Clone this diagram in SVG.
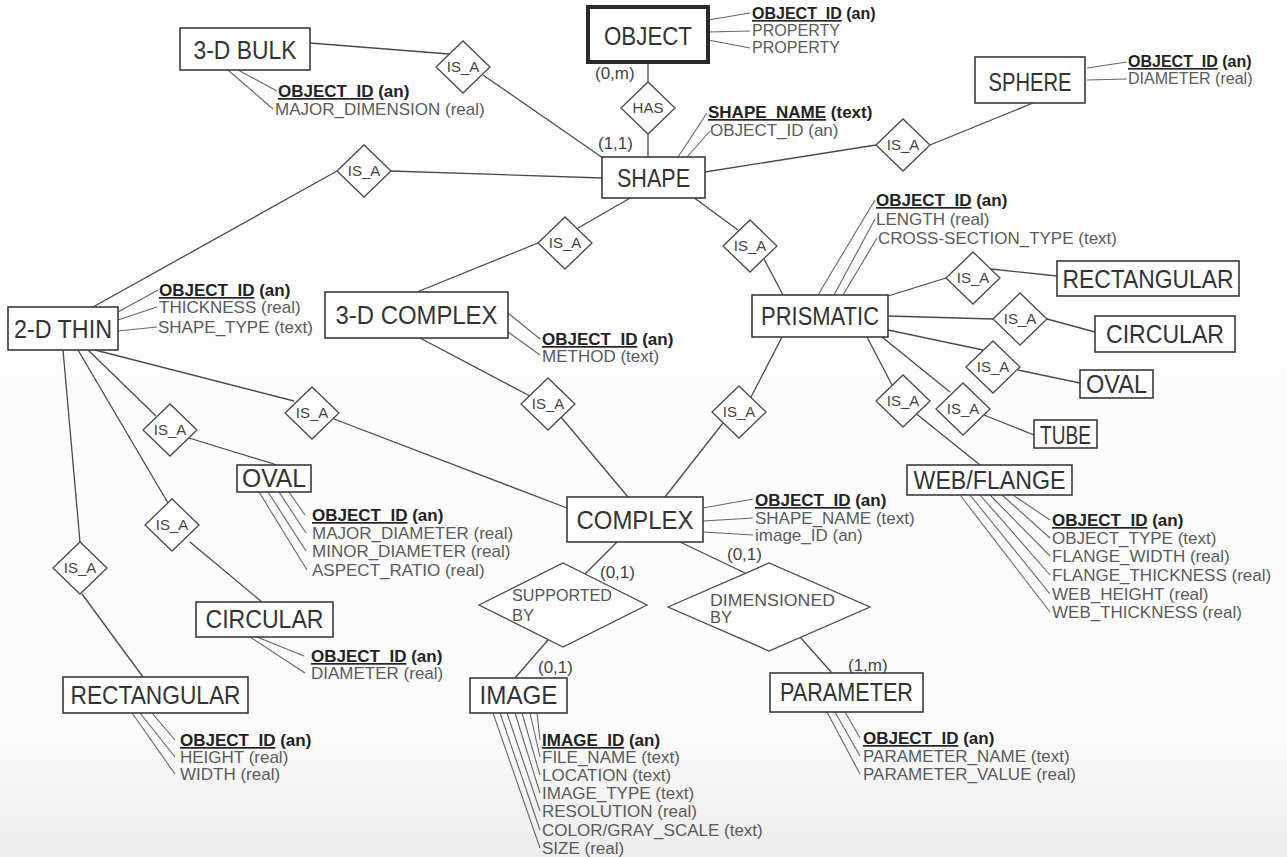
<svg xmlns="http://www.w3.org/2000/svg" width="1287" height="857" viewBox="0 0 1287 857">
<defs>
<linearGradient id="bg" x1="0" y1="0" x2="0" y2="1">
<stop offset="0" stop-color="#ffffff"/>
<stop offset="0.85" stop-color="#fbfbfb"/>
<stop offset="1" stop-color="#ececec"/>
</linearGradient>
<style>
.bx{fill:#fff;stroke:#3a3a3a;stroke-width:1.6}
.bxk{fill:#fff;stroke:#2a2a2a;stroke-width:4}
.dm{fill:#fff;stroke:#4a4a4a;stroke-width:1.3}
.ln{stroke:#4a4a4a;stroke-width:1.3;fill:none}
.al{stroke:#666;stroke-width:1.1;fill:none}
text{font-family:"Liberation Sans",Arial,sans-serif}
.lbl{font-size:25px;fill:#333;text-anchor:middle}
.at{font-size:17px;fill:#5a5a5a}
.sm{font-size:16px}
.key{font-weight:bold;fill:#222}
.u{text-decoration:underline}
.rt{font-size:15px;fill:#444;text-anchor:middle}
.rl{font-size:16.5px;fill:#555}
.card{font-size:17px;fill:#444}
</style>
</defs>
<rect x="0" y="0" width="1287" height="857" fill="url(#bg)"/>

<g id="connectors">
<line class="ln" x1="648" y1="62" x2="648" y2="82"/>
<line class="ln" x1="648" y1="134" x2="648" y2="157"/>
<line class="ln" x1="310" y1="43" x2="449" y2="54"/>
<line class="ln" x1="483" y1="75" x2="603" y2="158"/>
<line class="ln" x1="391" y1="171" x2="602" y2="178"/>
<line class="ln" x1="337" y1="171" x2="93" y2="307"/>
<line class="ln" x1="705" y1="172" x2="876" y2="145"/>
<line class="ln" x1="930" y1="145" x2="1033" y2="103"/>
<line class="ln" x1="632" y1="197" x2="578" y2="228"/>
<line class="ln" x1="538" y1="243" x2="417" y2="292"/>
<line class="ln" x1="693" y1="197" x2="738" y2="230"/>
<line class="ln" x1="764" y1="259" x2="783" y2="295"/>
<line class="ln" x1="420" y1="338" x2="530" y2="396"/>
<line class="ln" x1="561" y1="417" x2="628" y2="497"/>
<line class="ln" x1="782" y1="337" x2="751" y2="397"/>
<line class="ln" x1="723" y1="423" x2="665" y2="497"/>
<line class="ln" x1="95" y1="350" x2="294" y2="401"/>
<line class="ln" x1="334" y1="419" x2="567" y2="508"/>
<line class="ln" x1="88" y1="350" x2="156" y2="416"/>
<line class="ln" x1="189" y1="438" x2="277" y2="465"/>
<line class="ln" x1="78" y1="350" x2="168" y2="503"/>
<line class="ln" x1="190" y1="542" x2="262" y2="602"/>
<line class="ln" x1="63" y1="350" x2="80" y2="542"/>
<line class="ln" x1="82" y1="594" x2="143" y2="677"/>
<line class="ln" x1="888" y1="296" x2="946" y2="278"/>
<line class="ln" x1="991" y1="269" x2="1057" y2="276"/>
<line class="ln" x1="888" y1="316" x2="993" y2="319"/>
<line class="ln" x1="1047" y1="319" x2="1095" y2="332"/>
<line class="ln" x1="888" y1="330" x2="983" y2="350"/>
<line class="ln" x1="1018" y1="370" x2="1080" y2="383"/>
<line class="ln" x1="882" y1="337" x2="950" y2="392"/>
<line class="ln" x1="984" y1="415" x2="1034" y2="435"/>
<line class="ln" x1="867" y1="337" x2="892" y2="385"/>
<line class="ln" x1="914" y1="412" x2="980" y2="465"/>
<line class="ln" x1="617" y1="542" x2="585" y2="574"/>
<line class="ln" x1="680" y1="542" x2="745" y2="573"/>
<line class="ln" x1="548" y1="640" x2="515" y2="678"/>
<line class="ln" x1="800" y1="637" x2="832" y2="673"/>
<text class="card" x="595" y="79">(0,m)</text>
<text class="card" x="598" y="149">(1,1)</text>
<text class="card" x="600" y="578">(0,1)</text>
<text class="card" x="727" y="560">(0,1)</text>
<text class="card" x="538" y="673">(0,1)</text>
<text class="card" x="848" y="671">(1,m)</text>
</g>

<g id="rel-has"><polygon class="dm" points="621,108 648,82 675,108 648,134"/><text class="rt" x="648" y="113">HAS</text></g>
<g id="isa-bulk"><polygon class="dm" points="436,67 463,41 490,67 463,93"/><text class="rt" x="463" y="72">IS_A</text></g>
<g id="isa-sphere"><polygon class="dm" points="876,145 903,119 930,145 903,171"/><text class="rt" x="903" y="150">IS_A</text></g>
<g id="isa-thin"><polygon class="dm" points="337,171 364,145 391,171 364,197"/><text class="rt" x="364" y="176">IS_A</text></g>
<g id="isa-3dcomplex"><polygon class="dm" points="538,243 565,217 592,243 565,269"/><text class="rt" x="565" y="248">IS_A</text></g>
<g id="isa-prismatic"><polygon class="dm" points="723,246 750,220 777,246 750,272"/><text class="rt" x="750" y="251">IS_A</text></g>
<g id="isa-3dc-complex"><polygon class="dm" points="521,404 548,378 575,404 548,430"/><text class="rt" x="548" y="409">IS_A</text></g>
<g id="isa-pri-complex"><polygon class="dm" points="712,412 739,386 766,412 739,438"/><text class="rt" x="739" y="417">IS_A</text></g>
<g id="isa-pri-rect"><polygon class="dm" points="946,278 973,252 1000,278 973,304"/><text class="rt" x="973" y="283">IS_A</text></g>
<g id="isa-pri-circ"><polygon class="dm" points="993,319 1020,293 1047,319 1020,345"/><text class="rt" x="1020" y="324">IS_A</text></g>
<g id="isa-pri-oval"><polygon class="dm" points="966,367 993,341 1020,367 993,393"/><text class="rt" x="993" y="372">IS_A</text></g>
<g id="isa-pri-tube"><polygon class="dm" points="936,409 963,383 990,409 963,435"/><text class="rt" x="963" y="414">IS_A</text></g>
<g id="isa-pri-web"><polygon class="dm" points="876,401 903,375 930,401 903,427"/><text class="rt" x="903" y="406">IS_A</text></g>
<g id="isa-thin-oval"><polygon class="dm" points="143,430 170,404 197,430 170,456"/><text class="rt" x="170" y="435">IS_A</text></g>
<g id="isa-thin-complex"><polygon class="dm" points="285,413 312,387 339,413 312,439"/><text class="rt" x="312" y="418">IS_A</text></g>
<g id="isa-thin-circ"><polygon class="dm" points="145,525 172,499 199,525 172,551"/><text class="rt" x="172" y="530">IS_A</text></g>
<g id="isa-thin-rect"><polygon class="dm" points="53,568 80,542 107,568 80,594"/><text class="rt" x="80" y="573">IS_A</text></g>
<g id="rel-supported"><polygon class="dm" points="479,605 563,563 647,605 563,647"/><text class="rl" x="512" y="601" textLength="100" lengthAdjust="spacingAndGlyphs">SUPPORTED</text><text class="rl" x="512" y="621">BY</text></g>
<g id="rel-dimensioned"><polygon class="dm" points="668,607 769,563 870,607 769,651"/><text class="rl" x="710" y="606" textLength="125" lengthAdjust="spacingAndGlyphs">DIMENSIONED</text><text class="rl" x="710" y="623">BY</text></g>

<g id="object">
<line class="al" x1="708" y1="20" x2="750" y2="13"/><line class="al" x1="708" y1="32" x2="750" y2="31"/><line class="al" x1="708" y1="40" x2="750" y2="48"/>
<rect class="bxk" x="588" y="7" width="120" height="55"/>
<text class="lbl" x="648" y="45" textLength="88" lengthAdjust="spacingAndGlyphs">OBJECT</text>
<text class="at sm key" x="752" y="19"><tspan class="u">OBJECT_ID</tspan> (an)</text>
<text class="at sm" x="752" y="36" textLength="88" lengthAdjust="spacingAndGlyphs">PROPERTY</text>
<text class="at sm" x="752" y="53" textLength="88" lengthAdjust="spacingAndGlyphs">PROPERTY</text>
</g>

<g id="bulk3d">
<line class="al" x1="238" y1="70" x2="277" y2="91"/><line class="al" x1="228" y1="70" x2="273" y2="109"/>
<rect class="bx" x="180" y="28" width="130" height="42"/>
<text class="lbl" x="245" y="59" textLength="103" lengthAdjust="spacingAndGlyphs">3-D BULK</text>
<text class="at key" x="278" y="97"><tspan class="u">OBJECT_ID</tspan> (an)</text>
<text class="at" x="275" y="115">MAJOR_DIMENSION (real)</text>
</g>

<g id="shape">
<line class="al" x1="678" y1="157" x2="707" y2="113"/><line class="al" x1="687" y1="157" x2="710" y2="131"/>
<rect class="bx" x="602" y="157" width="103" height="41"/>
<text class="lbl" x="653.5" y="187" textLength="73" lengthAdjust="spacingAndGlyphs">SHAPE</text>
<text class="at key" x="708" y="118"><tspan class="u">SHAPE_NAME</tspan> (text)</text>
<text class="at" x="710" y="136">OBJECT_ID (an)</text>
</g>

<g id="sphere">
<line class="al" x1="1087" y1="68" x2="1127" y2="62"/><line class="al" x1="1087" y1="80" x2="1127" y2="79"/>
<rect class="bx" x="975" y="57" width="110" height="46"/>
<text class="lbl" x="1030" y="91" textLength="83" lengthAdjust="spacingAndGlyphs">SPHERE</text>
<text class="at sm key" x="1128" y="67"><tspan class="u">OBJECT_ID</tspan> (an)</text>
<text class="at sm" x="1128" y="84">DIAMETER (real)</text>
</g>

<g id="thin2d">
<line class="al" x1="118" y1="312" x2="158" y2="290"/><line class="al" x1="118" y1="320" x2="157" y2="307"/><line class="al" x1="118" y1="331" x2="157" y2="327"/>
<rect class="bx" x="8" y="307" width="110" height="43"/>
<text class="lbl" x="63" y="338" textLength="98" lengthAdjust="spacingAndGlyphs">2-D THIN</text>
<text class="at key" x="159" y="296"><tspan class="u">OBJECT_ID</tspan> (an)</text>
<text class="at" x="159" y="313">THICKNESS (real)</text>
<text class="at" x="158" y="333">SHAPE_TYPE (text)</text>
</g>

<g id="complex3d">
<line class="al" x1="508" y1="313" x2="540" y2="339"/><line class="al" x1="508" y1="332" x2="540" y2="355"/>
<rect class="bx" x="325" y="292" width="183" height="46"/>
<text class="lbl" x="416.5" y="324" textLength="162" lengthAdjust="spacingAndGlyphs">3-D COMPLEX</text>
<text class="at key" x="542" y="345"><tspan class="u">OBJECT_ID</tspan> (an)</text>
<text class="at" x="542" y="362">METHOD (text)</text>
</g>

<g id="prismatic">
<line class="al" x1="818" y1="295" x2="875" y2="200"/><line class="al" x1="834" y1="295" x2="875" y2="219"/><line class="al" x1="843" y1="295" x2="877" y2="238"/>
<rect class="bx" x="752" y="295" width="136" height="42"/>
<text class="lbl" x="820" y="325" textLength="118" lengthAdjust="spacingAndGlyphs">PRISMATIC</text>
<text class="at key" x="876" y="206"><tspan class="u">OBJECT_ID</tspan> (an)</text>
<text class="at" x="876" y="225">LENGTH (real)</text>
<text class="at" x="878" y="244">CROSS-SECTION_TYPE (text)</text>
</g>

<g id="rectangular-r">
<rect class="bx" x="1057" y="261" width="182" height="35"/>
<text class="lbl" x="1148" y="288" textLength="171" lengthAdjust="spacingAndGlyphs">RECTANGULAR</text>
</g>
<g id="circular-r">
<rect class="bx" x="1095" y="316" width="140" height="36"/>
<text class="lbl" x="1165" y="343" textLength="118" lengthAdjust="spacingAndGlyphs">CIRCULAR</text>
</g>
<g id="oval-r">
<rect class="bx" x="1080" y="370" width="73" height="28"/>
<text class="lbl" x="1116.5" y="393" textLength="61" lengthAdjust="spacingAndGlyphs">OVAL</text>
</g>
<g id="tube">
<rect class="bx" x="1034" y="420" width="63" height="28"/>
<text class="lbl" x="1065.5" y="444" textLength="51" lengthAdjust="spacingAndGlyphs">TUBE</text>
</g>

<g id="webflange">
<line class="al" x1="1013" y1="495" x2="1050" y2="520"/><line class="al" x1="1002" y1="495" x2="1050" y2="538"/><line class="al" x1="990" y1="495" x2="1050" y2="556"/><line class="al" x1="980" y1="495" x2="1050" y2="575"/><line class="al" x1="970" y1="495" x2="1050" y2="594"/><line class="al" x1="960" y1="495" x2="1050" y2="612"/>
<rect class="bx" x="907" y="465" width="165" height="30"/>
<text class="lbl" x="989.5" y="489" textLength="152" lengthAdjust="spacingAndGlyphs">WEB/FLANGE</text>
<text class="at key" x="1052" y="526"><tspan class="u">OBJECT_ID</tspan> (an)</text>
<text class="at" x="1052" y="544">OBJECT_TYPE (text)</text>
<text class="at" x="1052" y="562">FLANGE_WIDTH (real)</text>
<text class="at" x="1052" y="581">FLANGE_THICKNESS (real)</text>
<text class="at" x="1052" y="600">WEB_HEIGHT (real)</text>
<text class="at" x="1052" y="618">WEB_THICKNESS (real)</text>
</g>

<g id="complex">
<line class="al" x1="703" y1="508" x2="753" y2="499"/><line class="al" x1="703" y1="521" x2="753" y2="518"/><line class="al" x1="703" y1="532" x2="753" y2="535"/>
<rect class="bx" x="567" y="497" width="136" height="45"/>
<text class="lbl" x="635" y="529" textLength="117" lengthAdjust="spacingAndGlyphs">COMPLEX</text>
<text class="at key" x="755" y="506"><tspan class="u">OBJECT_ID</tspan> (an)</text>
<text class="at" x="755" y="524">SHAPE_NAME (text)</text>
<text class="at" x="755" y="541">image_ID (an)</text>
</g>

<g id="oval-l">
<line class="al" x1="289" y1="492" x2="305" y2="515"/><line class="al" x1="279" y1="492" x2="306" y2="533"/><line class="al" x1="268" y1="492" x2="306" y2="551"/><line class="al" x1="259" y1="492" x2="307" y2="570"/>
<rect class="bx" x="237" y="465" width="74" height="27"/>
<text class="lbl" x="274" y="487" textLength="64" lengthAdjust="spacingAndGlyphs">OVAL</text>
<text class="at key" x="312" y="521"><tspan class="u">OBJECT_ID</tspan> (an)</text>
<text class="at" x="312" y="539">MAJOR_DIAMETER (real)</text>
<text class="at" x="312" y="557">MINOR_DIAMETER (real)</text>
<text class="at" x="312" y="576">ASPECT_RATIO (real)</text>
</g>

<g id="circular-l">
<line class="al" x1="257" y1="637" x2="304" y2="656"/><line class="al" x1="250" y1="637" x2="305" y2="673"/>
<rect class="bx" x="196" y="602" width="137" height="35"/>
<text class="lbl" x="264.5" y="628" textLength="118" lengthAdjust="spacingAndGlyphs">CIRCULAR</text>
<text class="at key" x="311" y="662"><tspan class="u">OBJECT_ID</tspan> (an)</text>
<text class="at" x="311" y="679">DIAMETER (real)</text>
</g>

<g id="rectangular-l">
<line class="al" x1="152" y1="713" x2="175" y2="740"/><line class="al" x1="140" y1="713" x2="175" y2="757"/><line class="al" x1="132" y1="713" x2="175" y2="774"/>
<rect class="bx" x="63" y="677" width="185" height="36"/>
<text class="lbl" x="155.5" y="704" textLength="170" lengthAdjust="spacingAndGlyphs">RECTANGULAR</text>
<text class="at key" x="180" y="746"><tspan class="u">OBJECT_ID</tspan> (an)</text>
<text class="at" x="180" y="763">HEIGHT (real)</text>
<text class="at" x="180" y="780">WIDTH (real)</text>
</g>

<g id="image">
<line class="al" x1="537" y1="713" x2="540" y2="740"/><line class="al" x1="530" y1="713" x2="540" y2="757"/><line class="al" x1="522" y1="713" x2="540" y2="775"/><line class="al" x1="515" y1="713" x2="540" y2="793"/><line class="al" x1="507" y1="713" x2="540" y2="811"/><line class="al" x1="500" y1="713" x2="540" y2="830"/><line class="al" x1="493" y1="713" x2="540" y2="848"/>
<rect class="bx" x="470" y="678" width="97" height="35"/>
<text class="lbl" x="518.5" y="704" textLength="78" lengthAdjust="spacingAndGlyphs">IMAGE</text>
<text class="at key" x="542" y="746"><tspan class="u">IMAGE_ID</tspan> (an)</text>
<text class="at" x="542" y="763">FILE_NAME (text)</text>
<text class="at" x="542" y="781">LOCATION (text)</text>
<text class="at" x="542" y="799">IMAGE_TYPE (text)</text>
<text class="at" x="542" y="817">RESOLUTION (real)</text>
<text class="at" x="542" y="836">COLOR/GRAY_SCALE (text)</text>
<text class="at" x="542" y="854">SIZE (real)</text>
</g>

<g id="parameter">
<line class="al" x1="845" y1="712" x2="860" y2="738"/><line class="al" x1="835" y1="712" x2="860" y2="756"/><line class="al" x1="827" y1="712" x2="860" y2="774"/>
<rect class="bx" x="770" y="673" width="153" height="39"/>
<text class="lbl" x="846.5" y="701" textLength="133" lengthAdjust="spacingAndGlyphs">PARAMETER</text>
<text class="at key" x="863" y="744"><tspan class="u">OBJECT_ID</tspan> (an)</text>
<text class="at" x="863" y="762">PARAMETER_NAME (text)</text>
<text class="at" x="863" y="780">PARAMETER_VALUE (real)</text>
</g>
</svg>
